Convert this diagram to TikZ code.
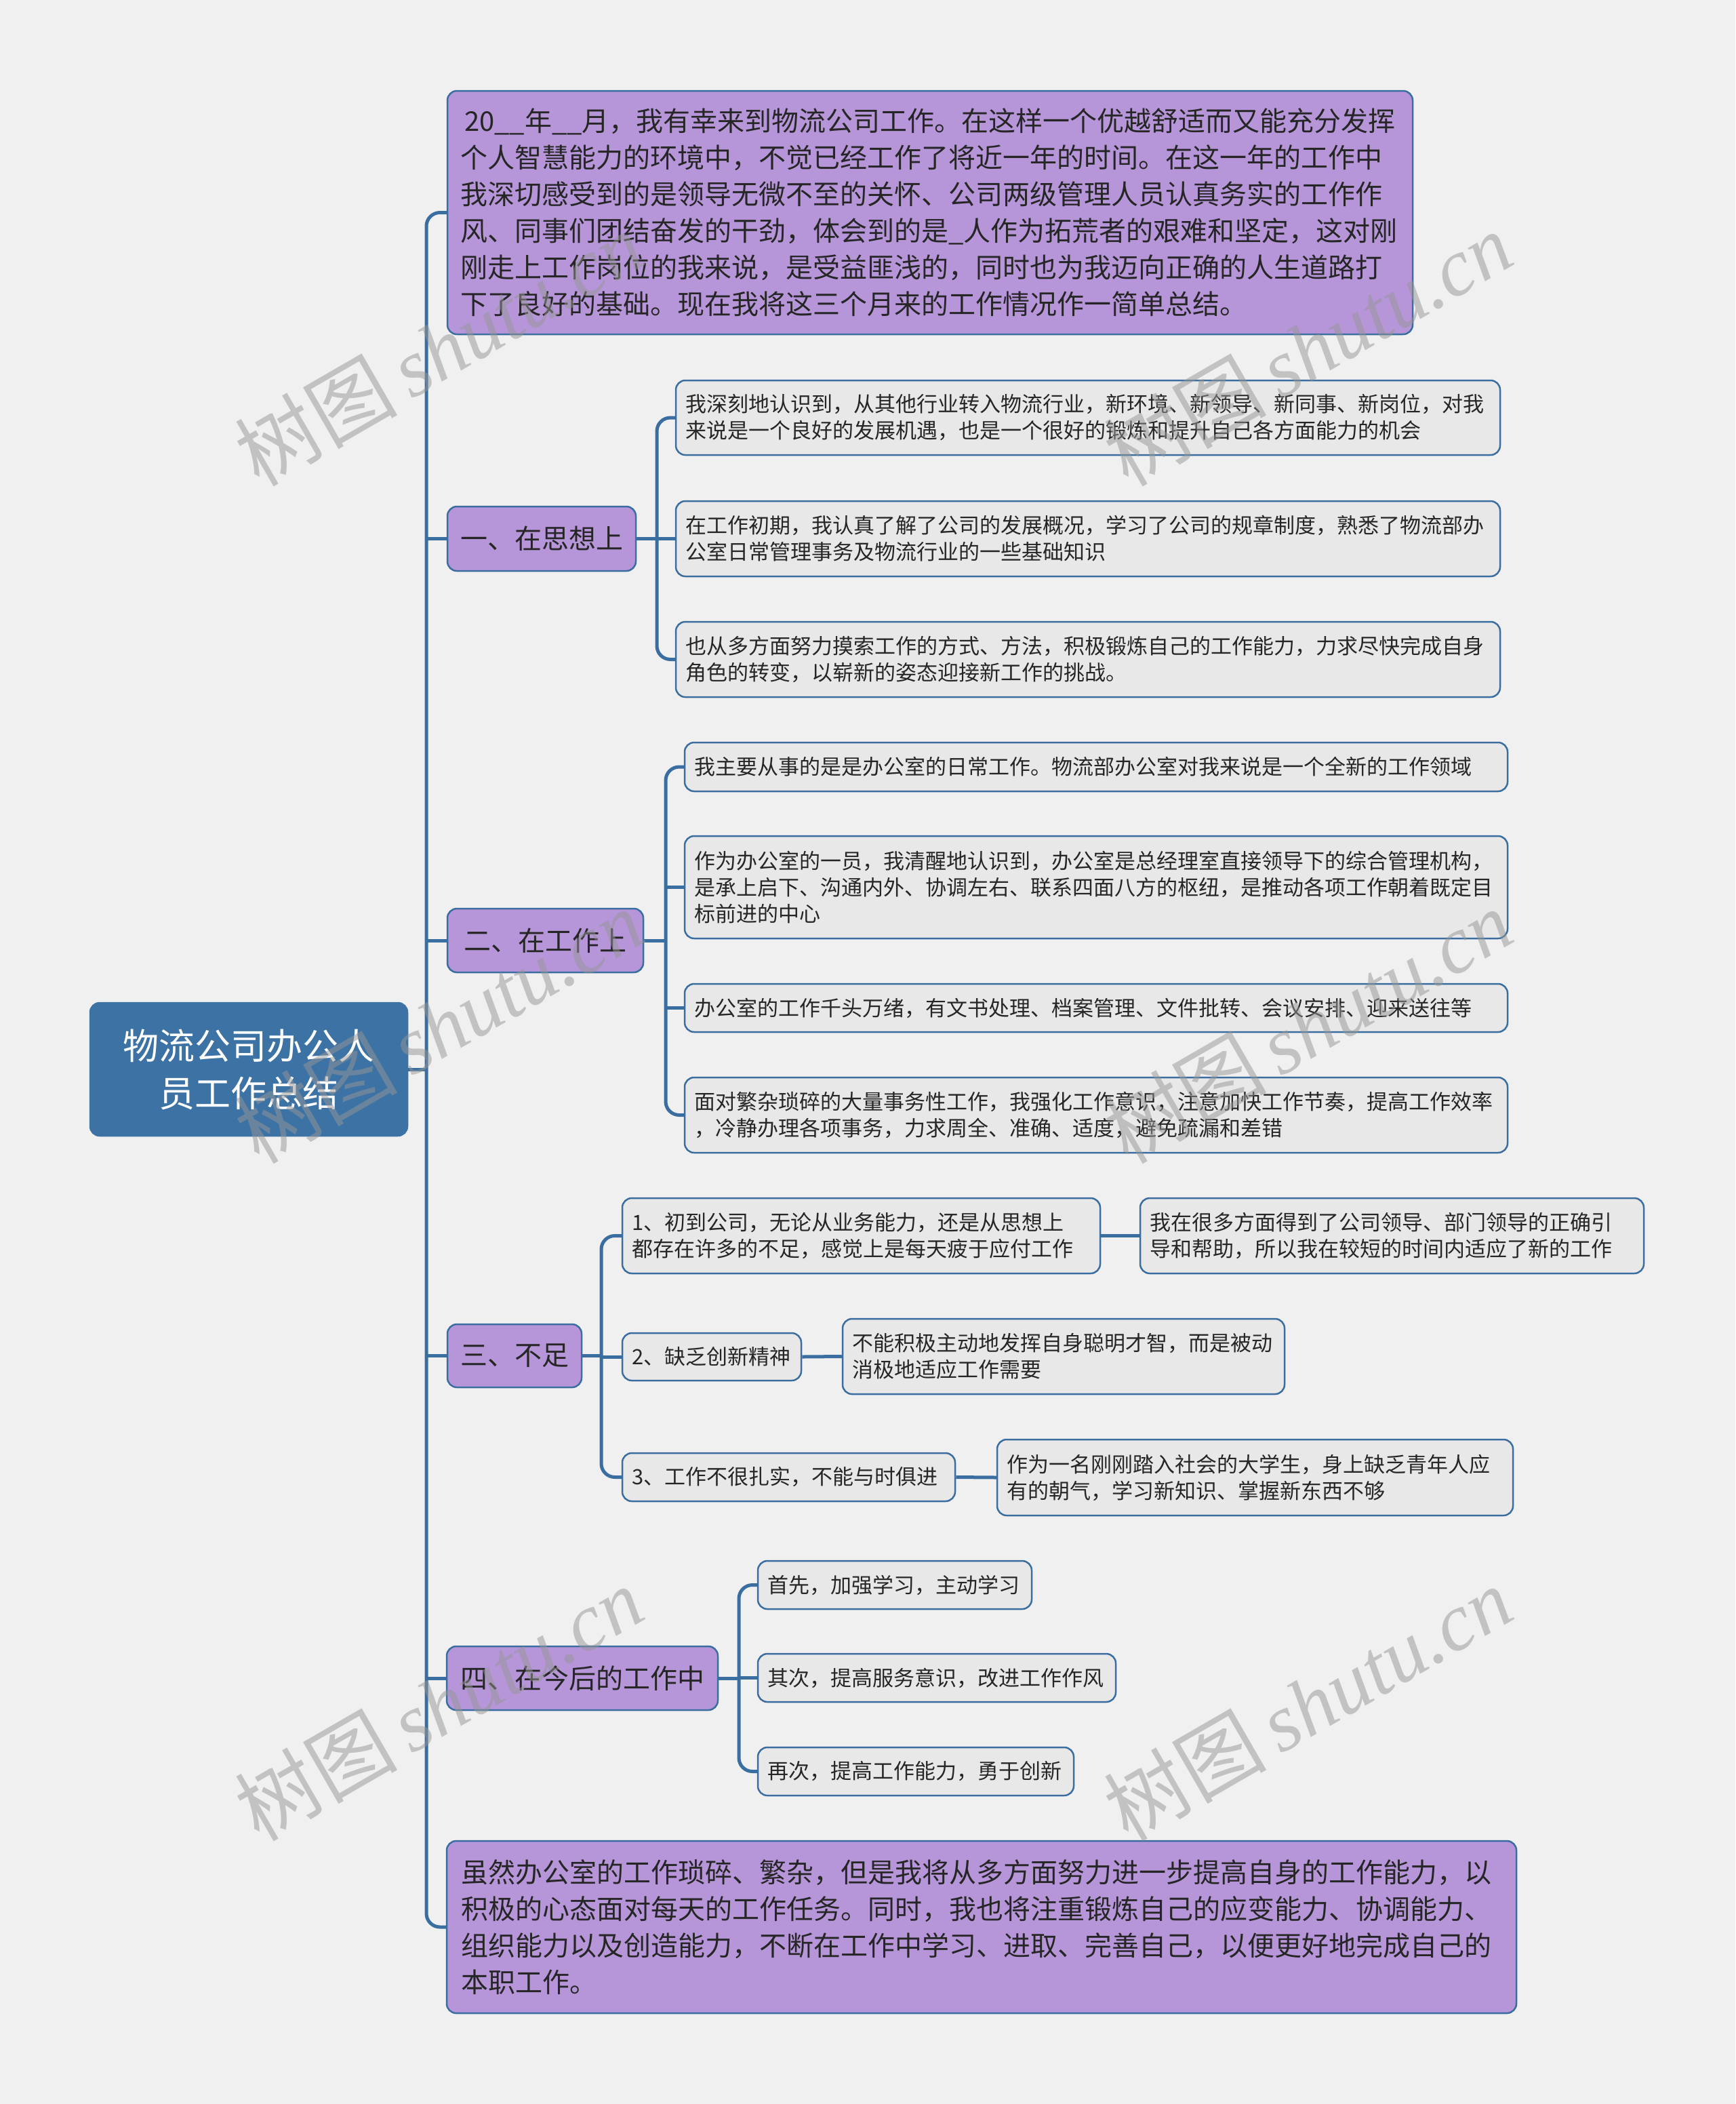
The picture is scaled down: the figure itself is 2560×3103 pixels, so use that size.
\documentclass[tikz,border=0pt]{standalone}
\usepackage{fontspec}
\setmainfont{Noto Sans CJK SC}
\newfontfamily\wmserif{Liberation Serif}
\usetikzlibrary{calc}
\definecolor{bgc}{HTML}{F0F0F0}
\definecolor{purp}{HTML}{B696D9}
\definecolor{lnk}{HTML}{3B6EA0}
\definecolor{leafc}{HTML}{E8E8E8}
\definecolor{rootc}{HTML}{3C72A4}
\definecolor{txt}{HTML}{262626}
\definecolor{wmc}{HTML}{969696}
\begin{document}
\begin{tikzpicture}[x=1pt,y=-1pt,
  conn/.style={draw=lnk, line width=5pt},
  boxbase/.style={draw=lnk, line width=2.5pt, rounded corners=14pt, inner ysep=0pt, anchor=center},
  mainbox/.style={boxbase, fill=purp, text=txt, font=\fontsize{40}{54}\selectfont},
  leafbox/.style={boxbase, fill=leafc, text=txt, font=\fontsize{31}{39}\selectfont, align=left, inner xsep=14pt},
  rootbox/.style={boxbase, fill=rootc, draw=rootc, text=white, font=\fontsize{53}{70}\selectfont, align=center},
  wm/.style={rotate=30, text=wmc, opacity=0.5, font=\fontsize{120}{120}\selectfont}
]
\fill[bgc] (0,0) rectangle (2560,3103);
\useasboundingbox (0,0) rectangle (2560,3103);

% root
\node[rootbox, minimum width=468, minimum height=196, text width=440] (root) at (367,1577) {物流公司办公人\\员工作总结};

% intro
\node[mainbox, align=left, inner xsep=19pt, text width=1386, minimum width=1424, minimum height=359] (intro) at (1372,313.5) {\hspace*{6pt}20\_\_年\_\_月，我有幸来到物流公司工作。在这样一个优越舒适而又能充分发挥\\个人智慧能力的环境中，不觉已经工作了将近一年的时间。在这一年的工作中\\我深切感受到的是领导无微不至的关怀、公司两级管理人员认真务实的工作作\\风、同事们团结奋发的干劲，体会到的是\_人作为拓荒者的艰难和坚定，这对刚\\刚走上工作岗位的我来说，是受益匪浅的，同时也为我迈向正确的人生道路打\\下了良好的基础。现在我将这三个月来的工作情况作一简单总结。};

% sections
\node[mainbox, minimum width=278, minimum height=95] (s1) at (799,794.5) {一、在思想上};
\node[mainbox, minimum width=289, minimum height=94] (s2) at (804.5,1387) {二、在工作上};
\node[mainbox, minimum width=198, minimum height=93] (s3) at (759,1999.5) {三、不足};
\node[mainbox, minimum width=400, minimum height=94] (s4) at (859,2475) {四、在今后的工作中};

% conclusion
\node[mainbox, align=left, inner xsep=21pt, text width=1536, minimum width=1578, minimum height=254] (concl) at (1448,2842) {虽然办公室的工作琐碎、繁杂，但是我将从多方面努力进一步提高自身的工作能力，以\\积极的心态面对每天的工作任务。同时，我也将注重锻炼自己的应变能力、协调能力、\\组织能力以及创造能力，不断在工作中学习、进取、完善自己，以便更好地完成自己的\\本职工作。};

% section 1 children
\node[leafbox, text width=1188, minimum height=110] (c1) at (1605,616) {我深刻地认识到，从其他行业转入物流行业，新环境、新领导、新同事、新岗位，对我\\来说是一个良好的发展机遇，也是一个很好的锻炼和提升自己各方面能力的机会};
\node[leafbox, text width=1188, minimum height=111] (c2) at (1605,794.5) {在工作初期，我认真了解了公司的发展概况，学习了公司的规章制度，熟悉了物流部办\\公室日常管理事务及物流行业的一些基础知识};
\node[leafbox, text width=1188, minimum height=111] (c3) at (1605,972.5) {也从多方面努力摸索工作的方式、方法，积极锻炼自己的工作能力，力求尽快完成自身\\角色的转变，以崭新的姿态迎接新工作的挑战。};

% section 2 children
\node[leafbox, text width=1186, minimum height=72] (d1) at (1617,1131) {我主要从事的是是办公室的日常工作。物流部办公室对我来说是一个全新的工作领域};
\node[leafbox, text width=1186, minimum height=151] (d2) at (1617,1308.5) {作为办公室的一员，我清醒地认识到，办公室是总经理室直接领导下的综合管理机构，\\是承上启下、沟通内外、协调左右、联系四面八方的枢纽，是推动各项工作朝着既定目\\标前进的中心};
\node[leafbox, text width=1186, minimum height=71] (d3) at (1617,1486.5) {办公室的工作千头万绪，有文书处理、档案管理、文件批转、会议安排、迎来送往等};
\node[leafbox, text width=1186, minimum height=111] (d4) at (1617,1644.5) {面对繁杂琐碎的大量事务性工作，我强化工作意识，注意加快工作节奏，提高工作效率\\，冷静办理各项事务，力求周全、准确、适度，避免疏漏和差错};

% section 3 children
\node[leafbox, text width=677, minimum height=111] (e1) at (1270.5,1822.5) {1、初到公司，无论从业务能力，还是从思想上\\都存在许多的不足，感觉上是每天疲于应付工作};
\node[leafbox, text width=715, minimum height=111] (f1) at (2053.5,1822.5) {我在很多方面得到了公司领导、部门领导的正确引\\导和帮助，所以我在较短的时间内适应了新的工作};
\node[leafbox, text width=236, minimum height=70] (e2) at (1050,2001) {2、缺乏创新精神};
\node[leafbox, text width=624, minimum height=111] (f2) at (1569,2000.5) {不能积极主动地发挥自身聪明才智，而是被动\\消极地适应工作需要};
\node[leafbox, text width=463, minimum height=71] (e3) at (1163.5,2178.5) {3、工作不很扎实，不能与时俱进};
\node[leafbox, text width=733, minimum height=112] (f3) at (1851.5,2179) {作为一名刚刚踏入社会的大学生，身上缺乏青年人应\\有的朝气，学习新知识、掌握新东西不够};

% section 4 children
\node[leafbox, text width=376, minimum height=71] (g1) at (1320,2337.5) {首先，加强学习，主动学习};
\node[leafbox, text width=500, minimum height=71] (g2) at (1382,2474.5) {其次，提高服务意识，改进工作作风};
\node[leafbox, text width=438, minimum height=71] (g3) at (1351,2612.5) {再次，提高工作能力，勇于创新};

% trunk
\coordinate (tr) at (629,0);
\draw[conn, rounded corners=20pt] (intro.west) -- (intro.west -| tr) -- (concl.west -| tr) -- (concl.west);
\foreach \n in {s1,s2,s3,s4} \draw[conn] (\n.west -| tr) -- (\n.west);
\draw[conn] (root.east) -- (root.east -| tr);

% branch 1
\coordinate (b1) at (969,0);
\draw[conn, rounded corners=20pt] (c1.west) -- (c1.west -| b1) -- (c3.west -| b1) -- (c3.west);
\draw[conn] (s1.east) -- (s1.east -| b1);
\draw[conn] (c2.west -| b1) -- (c2.west);

% branch 2
\coordinate (b2) at (982,0);
\draw[conn, rounded corners=20pt] (d1.west) -- (d1.west -| b2) -- (d4.west -| b2) -- (d4.west);
\draw[conn] (s2.east) -- (s2.east -| b2);
\draw[conn] (d2.west -| b2) -- (d2.west);
\draw[conn] (d3.west -| b2) -- (d3.west);

% branch 3
\coordinate (b3) at (887,0);
\draw[conn, rounded corners=20pt] (e1.west) -- (e1.west -| b3) -- (e3.west -| b3) -- (e3.west);
\draw[conn] (s3.east) -- (s3.east -| b3);
\draw[conn] (e2.west -| b3) -- (e2.west);
\draw[conn] (e1.east) -- (f1.west);
\draw[conn] (e2.east) -- (f2.west);
\draw[conn] (e3.east) -- (f3.west);

% branch 4
\coordinate (b4) at (1090,0);
\draw[conn, rounded corners=20pt] (g1.west) -- (g1.west -| b4) -- (g3.west -| b4) -- (g3.west);
\draw[conn] (s4.east) -- (s4.east -| b4);
\draw[conn] (g2.west -| b4) -- (g2.west);

% watermarks
\foreach \wx/\wy/\k in {647/514/1,1929/514/2,647/1513/3,1929/1513/4,647/2512/5,1929/2512/6}
  \node[wm] (wm\k) at (\wx,\wy) {树图\,{\wmserif\itshape shutu.cn}};
\end{tikzpicture}
\end{document}
